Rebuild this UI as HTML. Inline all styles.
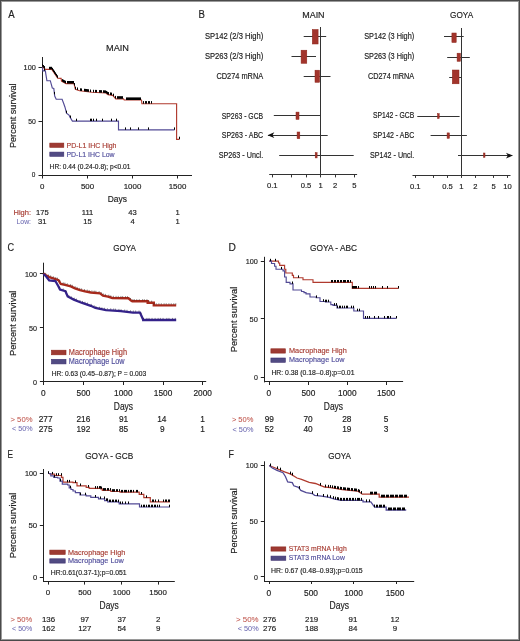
<!DOCTYPE html>
<html><head><meta charset="utf-8"><style>
html,body{margin:0;padding:0;background:#fff;}
body{width:520px;height:641px;overflow:hidden;position:relative;}
svg{position:absolute;left:0;top:0;display:block;will-change:transform;}
text{font-family:"Liberation Sans", sans-serif;}
</style></head><body>
<svg width="520" height="641" viewBox="0 0 520 641">
<rect x="0" y="0" width="520" height="641" fill="#fff"/>
<text x="8.20" y="18.00" font-size="11.3" text-anchor="start" fill="#222" stroke="#222" stroke-width="0.17" textLength="6.40" lengthAdjust="spacingAndGlyphs">A</text>
<text x="117.50" y="51.30" font-size="9.9" text-anchor="middle" fill="#222" stroke="#222" stroke-width="0.17" textLength="23.00" lengthAdjust="spacingAndGlyphs">MAIN</text>
<line x1="42.50" y1="57.00" x2="42.50" y2="175.30" stroke="#222" stroke-width="1"/>
<line x1="42.00" y1="175.50" x2="192.00" y2="175.50" stroke="#222" stroke-width="1"/>
<line x1="38.50" y1="67.50" x2="42.50" y2="67.50" stroke="#222" stroke-width="1"/>
<line x1="38.50" y1="121.50" x2="42.50" y2="121.50" stroke="#222" stroke-width="1"/>
<line x1="38.50" y1="175.50" x2="42.50" y2="175.50" stroke="#222" stroke-width="1"/>
<line x1="42.50" y1="175.00" x2="42.50" y2="178.50" stroke="#222" stroke-width="1"/>
<line x1="87.50" y1="175.00" x2="87.50" y2="178.50" stroke="#222" stroke-width="1"/>
<line x1="132.50" y1="175.00" x2="132.50" y2="178.50" stroke="#222" stroke-width="1"/>
<line x1="177.50" y1="175.00" x2="177.50" y2="178.50" stroke="#222" stroke-width="1"/>
<text x="35.80" y="70.20" font-size="7.6" text-anchor="end" fill="#222" stroke="#222" stroke-width="0.17" textLength="12.20" lengthAdjust="spacingAndGlyphs">100</text>
<text x="35.80" y="124.00" font-size="7.6" text-anchor="end" fill="#222" stroke="#222" stroke-width="0.17" textLength="7.60" lengthAdjust="spacingAndGlyphs">50</text>
<text x="35.40" y="177.40" font-size="7.6" text-anchor="end" fill="#222" stroke="#222" stroke-width="0.17" textLength="3.60" lengthAdjust="spacingAndGlyphs">0</text>
<text x="42.20" y="188.70" font-size="7.9" text-anchor="middle" fill="#222" stroke="#222" stroke-width="0.17">0</text>
<text x="87.50" y="188.70" font-size="7.9" text-anchor="middle" fill="#222" stroke="#222" stroke-width="0.17">500</text>
<text x="132.50" y="188.70" font-size="7.9" text-anchor="middle" fill="#222" stroke="#222" stroke-width="0.17">1000</text>
<text x="177.50" y="188.70" font-size="7.9" text-anchor="middle" fill="#222" stroke="#222" stroke-width="0.17">1500</text>
<text x="117.30" y="201.60" font-size="9" text-anchor="middle" fill="#222" stroke="#222" stroke-width="0.17" textLength="19.20" lengthAdjust="spacingAndGlyphs">Days</text>
<text x="15.90" y="115.70" font-size="9.3" text-anchor="middle" fill="#222" stroke="#222" stroke-width="0.17" textLength="64.60" lengthAdjust="spacingAndGlyphs" transform="rotate(-90 15.90 115.70)">Percent survival</text>
<rect x="49.80" y="143.10" width="14.00" height="4.20" fill="#9e3a33" stroke="#8c2419" stroke-width="0.6"/>
<rect x="49.80" y="152.10" width="14.00" height="4.20" fill="#514b83" stroke="#3d2f6e" stroke-width="0.6"/>
<text x="66.50" y="147.60" font-size="8.1" text-anchor="start" fill="#a83e34" stroke="#a83e34" stroke-width="0.17" textLength="50.00" lengthAdjust="spacingAndGlyphs">PD-L1 IHC High</text>
<text x="66.50" y="156.60" font-size="8.1" text-anchor="start" fill="#524f9c" stroke="#524f9c" stroke-width="0.17" textLength="48.10" lengthAdjust="spacingAndGlyphs">PD-L1 IHC Low</text>
<text x="49.60" y="169.20" font-size="7.7" text-anchor="start" fill="#222" stroke="#222" stroke-width="0.17" textLength="80.80" lengthAdjust="spacingAndGlyphs">HR: 0.44 (0.24-0.8); p&lt;0.01</text>
<text x="31.00" y="215.00" font-size="7.6" text-anchor="end" fill="#a83e34" stroke="#a83e34" stroke-width="0.17" textLength="17.50" lengthAdjust="spacingAndGlyphs">High:</text>
<text x="31.00" y="224.40" font-size="7.6" text-anchor="end" fill="#6e6bb3" stroke="#6e6bb3" stroke-width="0.17" textLength="14.50" lengthAdjust="spacingAndGlyphs" stroke-opacity="0.3">Low:</text>
<text x="42.30" y="215.00" font-size="7.6" text-anchor="middle" fill="#222" stroke="#222" stroke-width="0.17">175</text>
<text x="87.50" y="215.00" font-size="7.6" text-anchor="middle" fill="#222" stroke="#222" stroke-width="0.17">111</text>
<text x="132.50" y="215.00" font-size="7.6" text-anchor="middle" fill="#222" stroke="#222" stroke-width="0.17">43</text>
<text x="177.50" y="215.00" font-size="7.6" text-anchor="middle" fill="#222" stroke="#222" stroke-width="0.17">1</text>
<text x="42.30" y="224.40" font-size="7.6" text-anchor="middle" fill="#222" stroke="#222" stroke-width="0.17">31</text>
<text x="87.50" y="224.40" font-size="7.6" text-anchor="middle" fill="#222" stroke="#222" stroke-width="0.17">15</text>
<text x="132.50" y="224.40" font-size="7.6" text-anchor="middle" fill="#222" stroke="#222" stroke-width="0.17">4</text>
<text x="177.50" y="224.40" font-size="7.6" text-anchor="middle" fill="#222" stroke="#222" stroke-width="0.17">1</text>
<path d="M42.40,66.50 L44.40,68.60 L45.50,69.40 L51.80,69.40 L57.70,78.20 L61.10,78.40 L61.50,81.20 L66.00,83.60 L74.00,83.60 L75.40,89.30 L79.60,90.80 L92.00,92.30 L105.80,93.00 L108.00,94.60 L112.70,95.40 L115.80,98.80 L123.50,98.80 L124.20,100.00 L141.50,100.00 L141.90,103.70 L176.60,103.70 L176.60,139.30 L179.30,139.30" fill="none" stroke="#b03a2e" stroke-width="1.15" stroke-linejoin="miter"/>
<path d="M42.40,67.40 L42.80,70.80 L45.40,70.80 L45.80,73.80 L46.90,80.70 L50.30,80.70 L52.30,88.00 L53.80,88.50 L54.70,96.00 L56.20,99.20 L62.10,99.20 L63.60,103.30 L65.00,107.20 L66.50,113.10 L69.00,115.10 L70.00,117.10 L72.40,121.10 L118.50,121.10 L118.50,129.80 L174.50,129.80" fill="none" stroke="#524a95" stroke-width="1.15" stroke-linejoin="miter"/>
<path d="M42.50,66.61V64.01M43.50,67.66V65.06M44.50,68.67V66.07M49.50,69.40V66.80M50.50,69.40V66.80M51.50,69.40V66.80M52.50,70.44V67.84M53.50,71.94V69.34M54.50,73.43V70.83M54.50,73.43V70.83M55.50,74.92V72.32M56.50,76.41V73.81M57.50,77.90V75.30M62.50,81.73V79.13M63.50,82.27V79.67M64.50,82.80V80.20M65.50,83.33V80.73M67.50,83.60V81.00M68.50,83.60V81.00M69.50,83.60V81.00M70.50,83.60V81.00M71.50,83.60V81.00M72.50,83.60V81.00M73.50,83.60V81.00M74.50,85.64V83.04M75.50,89.34V86.74M77.50,90.05V87.45M80.50,90.91V88.31M81.50,91.03V88.43M84.50,91.39V88.79M85.50,91.51V88.91M86.50,91.63V89.03M87.50,91.76V89.16M88.50,91.88V89.28M90.50,92.12V89.52M93.50,92.38V89.78M95.50,92.48V89.88M96.50,92.53V89.93M99.50,92.68V90.08M100.50,92.73V90.13M101.50,92.78V90.18M103.50,92.88V90.28M104.50,92.93V90.33M105.50,92.98V90.38M106.50,93.51V90.91M107.50,94.24V91.64M108.50,94.69V92.09M110.50,95.03V92.43M111.50,95.20V92.60M113.50,96.28V93.68M115.50,98.47V95.87M117.50,98.80V96.20M118.50,98.80V96.20M119.50,98.80V96.20M120.50,98.80V96.20M121.50,98.80V96.20M122.50,98.80V96.20M126.50,100.00V97.40M127.50,100.00V97.40M128.50,100.00V97.40M129.50,100.00V97.40M130.50,100.00V97.40M131.50,100.00V97.40M132.50,100.00V97.40M133.50,100.00V97.40M134.50,100.00V97.40M135.50,100.00V97.40M136.50,100.00V97.40M137.50,100.00V97.40M138.50,100.00V97.40M139.50,100.00V97.40M140.50,100.00V97.40M143.50,103.70V101.10M145.50,103.70V101.10M146.50,103.70V101.10M148.50,103.70V101.10M149.50,103.70V101.10M151.50,103.70V101.10M179.50,139.30V136.70" stroke="#000" stroke-width="1.0" fill="none"/>
<path d="M44.50,70.80V68.40M54.50,94.33V91.93M66.50,113.10V110.70M70.50,117.93V115.53M76.50,121.10V118.70M90.50,121.10V118.70M91.50,121.10V118.70M93.50,121.10V118.70M96.50,121.10V118.70M102.50,121.10V118.70M111.50,121.10V118.70M116.50,121.10V118.70M125.50,129.80V127.40M130.50,129.80V127.40M138.50,129.80V127.40M148.50,129.80V127.40M174.50,129.80V127.40" stroke="#000" stroke-width="1.0" fill="none"/>
<text x="198.60" y="17.80" font-size="11.3" text-anchor="start" fill="#222" stroke="#222" stroke-width="0.17" textLength="6.40" lengthAdjust="spacingAndGlyphs">B</text>
<text x="313.40" y="18.00" font-size="9.9" text-anchor="middle" fill="#222" stroke="#222" stroke-width="0.17" textLength="22.40" lengthAdjust="spacingAndGlyphs">MAIN</text>
<text x="461.60" y="18.00" font-size="9.9" text-anchor="middle" fill="#222" stroke="#222" stroke-width="0.17" textLength="23.10" lengthAdjust="spacingAndGlyphs">GOYA</text>
<text x="263.20" y="39.30" font-size="8.3" text-anchor="end" fill="#222" stroke="#222" stroke-width="0.17" textLength="58.30" lengthAdjust="spacingAndGlyphs">SP142 (2/3 High)</text>
<text x="263.20" y="58.80" font-size="8.3" text-anchor="end" fill="#222" stroke="#222" stroke-width="0.17" textLength="58.30" lengthAdjust="spacingAndGlyphs">SP263 (2/3 High)</text>
<text x="263.20" y="79.20" font-size="8.3" text-anchor="end" fill="#222" stroke="#222" stroke-width="0.17" textLength="46.80" lengthAdjust="spacingAndGlyphs">CD274 mRNA</text>
<text x="263.20" y="118.70" font-size="8.3" text-anchor="end" fill="#222" stroke="#222" stroke-width="0.17" textLength="41.50" lengthAdjust="spacingAndGlyphs">SP263 - GCB</text>
<text x="263.20" y="138.20" font-size="8.3" text-anchor="end" fill="#222" stroke="#222" stroke-width="0.17" textLength="41.50" lengthAdjust="spacingAndGlyphs">SP263 - ABC</text>
<text x="263.20" y="158.00" font-size="8.3" text-anchor="end" fill="#222" stroke="#222" stroke-width="0.17" textLength="44.50" lengthAdjust="spacingAndGlyphs">SP263 - Uncl.</text>
<text x="414.20" y="39.30" font-size="8.3" text-anchor="end" fill="#222" stroke="#222" stroke-width="0.17" textLength="50.00" lengthAdjust="spacingAndGlyphs">SP142 (3 High)</text>
<text x="414.20" y="58.90" font-size="8.3" text-anchor="end" fill="#222" stroke="#222" stroke-width="0.17" textLength="50.00" lengthAdjust="spacingAndGlyphs">SP263 (3 High)</text>
<text x="414.20" y="78.60" font-size="8.3" text-anchor="end" fill="#222" stroke="#222" stroke-width="0.17" textLength="46.20" lengthAdjust="spacingAndGlyphs">CD274 mRNA</text>
<text x="414.20" y="118.00" font-size="8.3" text-anchor="end" fill="#222" stroke="#222" stroke-width="0.17" textLength="41.30" lengthAdjust="spacingAndGlyphs">SP142 - GCB</text>
<text x="414.20" y="137.60" font-size="8.3" text-anchor="end" fill="#222" stroke="#222" stroke-width="0.17" textLength="41.30" lengthAdjust="spacingAndGlyphs">SP142 - ABC</text>
<text x="414.20" y="157.50" font-size="8.3" text-anchor="end" fill="#222" stroke="#222" stroke-width="0.17" textLength="44.20" lengthAdjust="spacingAndGlyphs">SP142 - Uncl.</text>
<line x1="320.50" y1="27.00" x2="320.50" y2="174.60" stroke="#333" stroke-width="1"/>
<line x1="269.20" y1="174.50" x2="357.10" y2="174.50" stroke="#333" stroke-width="1.1"/>
<line x1="272.50" y1="174.60" x2="272.50" y2="177.40" stroke="#333" stroke-width="1"/>
<text x="272.30" y="188.30" font-size="7.6" text-anchor="middle" fill="#222" stroke="#222" stroke-width="0.17">0.1</text>
<line x1="291.50" y1="174.60" x2="291.50" y2="177.40" stroke="#333" stroke-width="1"/>
<text x="291.52" y="188.30" font-size="7.6" text-anchor="middle" fill="#222" stroke="#222" stroke-width="0.17"></text>
<line x1="306.50" y1="174.60" x2="306.50" y2="177.40" stroke="#333" stroke-width="1"/>
<text x="306.06" y="188.30" font-size="7.6" text-anchor="middle" fill="#222" stroke="#222" stroke-width="0.17">0.5</text>
<line x1="320.50" y1="174.60" x2="320.50" y2="177.40" stroke="#333" stroke-width="1"/>
<text x="320.60" y="188.30" font-size="7.6" text-anchor="middle" fill="#222" stroke="#222" stroke-width="0.17">1</text>
<line x1="335.50" y1="174.60" x2="335.50" y2="177.40" stroke="#333" stroke-width="1"/>
<text x="335.14" y="188.30" font-size="7.6" text-anchor="middle" fill="#222" stroke="#222" stroke-width="0.17">2</text>
<line x1="354.50" y1="174.60" x2="354.50" y2="177.40" stroke="#333" stroke-width="1"/>
<text x="354.36" y="188.30" font-size="7.6" text-anchor="middle" fill="#222" stroke="#222" stroke-width="0.17">5</text>
<line x1="303.70" y1="36.50" x2="326.20" y2="36.50" stroke="#333" stroke-width="1"/>
<rect x="312.30" y="29.50" width="5.80" height="14.50" fill="#a2342c" stroke="#8c2419" stroke-width="0.5"/>
<line x1="291.50" y1="56.50" x2="316.00" y2="56.50" stroke="#333" stroke-width="1"/>
<rect x="301.10" y="50.20" width="5.70" height="13.10" fill="#a2342c" stroke="#8c2419" stroke-width="0.5"/>
<line x1="303.70" y1="76.50" x2="330.50" y2="76.50" stroke="#333" stroke-width="1"/>
<rect x="315.00" y="70.20" width="4.60" height="12.10" fill="#a2342c" stroke="#8c2419" stroke-width="0.5"/>
<line x1="273.80" y1="115.50" x2="320.60" y2="115.50" stroke="#333" stroke-width="1"/>
<rect x="296.00" y="112.10" width="3.00" height="7.30" fill="#a2342c" stroke="#8c2419" stroke-width="0.5"/>
<line x1="268.00" y1="135.50" x2="327.70" y2="135.50" stroke="#333" stroke-width="1"/>
<path d="M267.50,135.20 L274.30,132.30 L272.50,135.20 L274.30,138.10 Z" fill="#111"/>
<rect x="297.10" y="132.00" width="2.70" height="6.70" fill="#a2342c" stroke="#8c2419" stroke-width="0.5"/>
<line x1="279.20" y1="155.50" x2="353.70" y2="155.50" stroke="#333" stroke-width="1"/>
<rect x="315.20" y="152.70" width="1.90" height="5.20" fill="#a2342c" stroke="#8c2419" stroke-width="0.5"/>
<line x1="461.50" y1="28.00" x2="461.50" y2="175.10" stroke="#333" stroke-width="1"/>
<line x1="412.50" y1="175.50" x2="510.50" y2="175.50" stroke="#333" stroke-width="1.1"/>
<line x1="415.50" y1="175.10" x2="415.50" y2="177.90" stroke="#333" stroke-width="1"/>
<text x="415.30" y="188.80" font-size="7.6" text-anchor="middle" fill="#222" stroke="#222" stroke-width="0.17">0.1</text>
<line x1="433.50" y1="175.10" x2="433.50" y2="177.90" stroke="#333" stroke-width="1"/>
<text x="433.65" y="188.80" font-size="7.6" text-anchor="middle" fill="#222" stroke="#222" stroke-width="0.17"></text>
<line x1="447.50" y1="175.10" x2="447.50" y2="177.90" stroke="#333" stroke-width="1"/>
<text x="447.52" y="188.80" font-size="7.6" text-anchor="middle" fill="#222" stroke="#222" stroke-width="0.17">0.5</text>
<line x1="461.50" y1="175.10" x2="461.50" y2="177.90" stroke="#333" stroke-width="1"/>
<text x="461.40" y="188.80" font-size="7.6" text-anchor="middle" fill="#222" stroke="#222" stroke-width="0.17">1</text>
<line x1="475.50" y1="175.10" x2="475.50" y2="177.90" stroke="#333" stroke-width="1"/>
<text x="475.28" y="188.80" font-size="7.6" text-anchor="middle" fill="#222" stroke="#222" stroke-width="0.17">2</text>
<line x1="493.50" y1="175.10" x2="493.50" y2="177.90" stroke="#333" stroke-width="1"/>
<text x="493.62" y="188.80" font-size="7.6" text-anchor="middle" fill="#222" stroke="#222" stroke-width="0.17">5</text>
<line x1="507.50" y1="175.10" x2="507.50" y2="177.90" stroke="#333" stroke-width="1"/>
<text x="507.50" y="188.80" font-size="7.6" text-anchor="middle" fill="#222" stroke="#222" stroke-width="0.17">10</text>
<line x1="444.00" y1="36.50" x2="463.70" y2="36.50" stroke="#333" stroke-width="1"/>
<rect x="451.90" y="33.00" width="4.30" height="9.50" fill="#a2342c" stroke="#8c2419" stroke-width="0.5"/>
<line x1="447.20" y1="57.50" x2="469.80" y2="57.50" stroke="#333" stroke-width="1"/>
<rect x="457.10" y="53.20" width="3.40" height="8.10" fill="#a2342c" stroke="#8c2419" stroke-width="0.5"/>
<line x1="449.20" y1="77.50" x2="461.50" y2="77.50" stroke="#333" stroke-width="1"/>
<rect x="452.30" y="70.00" width="6.70" height="13.80" fill="#a2342c" stroke="#8c2419" stroke-width="0.5"/>
<line x1="417.30" y1="116.50" x2="459.60" y2="116.50" stroke="#333" stroke-width="1"/>
<rect x="437.50" y="113.70" width="1.70" height="4.80" fill="#a2342c" stroke="#8c2419" stroke-width="0.5"/>
<line x1="430.60" y1="135.50" x2="466.90" y2="135.50" stroke="#333" stroke-width="1"/>
<rect x="447.10" y="132.90" width="2.30" height="5.40" fill="#a2342c" stroke="#8c2419" stroke-width="0.5"/>
<line x1="458.00" y1="155.50" x2="512.30" y2="155.50" stroke="#333" stroke-width="1"/>
<path d="M512.80,155.60 L506.00,152.70 L507.80,155.60 L506.00,158.50 Z" fill="#111"/>
<rect x="483.50" y="153.00" width="1.50" height="4.30" fill="#a2342c" stroke="#8c2419" stroke-width="0.5"/>
<text x="7.60" y="250.60" font-size="11.3" text-anchor="start" fill="#222" stroke="#222" stroke-width="0.17" textLength="6.60" lengthAdjust="spacingAndGlyphs">C</text>
<text x="124.60" y="250.90" font-size="9.9" text-anchor="middle" fill="#222" stroke="#222" stroke-width="0.17" textLength="22.70" lengthAdjust="spacingAndGlyphs">GOYA</text>
<line x1="43.50" y1="262.70" x2="43.50" y2="382.30" stroke="#222" stroke-width="1"/>
<line x1="43.00" y1="381.50" x2="206.20" y2="381.50" stroke="#222" stroke-width="1"/>
<line x1="39.90" y1="273.50" x2="43.50" y2="273.50" stroke="#222" stroke-width="1"/>
<line x1="39.90" y1="327.50" x2="43.50" y2="327.50" stroke="#222" stroke-width="1"/>
<line x1="39.90" y1="381.50" x2="43.50" y2="381.50" stroke="#222" stroke-width="1"/>
<line x1="43.50" y1="381.80" x2="43.50" y2="385.00" stroke="#222" stroke-width="1"/>
<line x1="83.50" y1="381.80" x2="83.50" y2="385.00" stroke="#222" stroke-width="1"/>
<line x1="123.50" y1="381.80" x2="123.50" y2="385.00" stroke="#222" stroke-width="1"/>
<line x1="163.50" y1="381.80" x2="163.50" y2="385.00" stroke="#222" stroke-width="1"/>
<line x1="202.50" y1="381.80" x2="202.50" y2="385.00" stroke="#222" stroke-width="1"/>
<text x="37.00" y="276.85" font-size="8" text-anchor="end" fill="#222" stroke="#222" stroke-width="0.17" textLength="11.90" lengthAdjust="spacingAndGlyphs">100</text>
<text x="37.00" y="330.85" font-size="8" text-anchor="end" fill="#222" stroke="#222" stroke-width="0.17" textLength="8.00" lengthAdjust="spacingAndGlyphs">50</text>
<text x="37.00" y="384.55" font-size="8" text-anchor="end" fill="#222" stroke="#222" stroke-width="0.17" textLength="4.00" lengthAdjust="spacingAndGlyphs">0</text>
<text x="43.30" y="395.60" font-size="8.3" text-anchor="middle" fill="#222" stroke="#222" stroke-width="0.17">0</text>
<text x="83.50" y="395.60" font-size="8.3" text-anchor="middle" fill="#222" stroke="#222" stroke-width="0.17">500</text>
<text x="123.30" y="395.60" font-size="8.3" text-anchor="middle" fill="#222" stroke="#222" stroke-width="0.17">1000</text>
<text x="163.10" y="395.60" font-size="8.3" text-anchor="middle" fill="#222" stroke="#222" stroke-width="0.17">1500</text>
<text x="202.70" y="395.60" font-size="8.3" text-anchor="middle" fill="#222" stroke="#222" stroke-width="0.17">2000</text>
<text x="123.45" y="409.50" font-size="10.3" text-anchor="middle" fill="#222" stroke="#222" stroke-width="0.17" textLength="19.30" lengthAdjust="spacingAndGlyphs">Days</text>
<text x="15.90" y="323.30" font-size="9.3" text-anchor="middle" fill="#222" stroke="#222" stroke-width="0.17" textLength="65.40" lengthAdjust="spacingAndGlyphs" transform="rotate(-90 15.90 323.30)">Percent survival</text>
<rect x="51.50" y="350.20" width="14.50" height="4.60" fill="#9e3a33" stroke="#8c2419" stroke-width="0.6"/>
<rect x="51.50" y="359.30" width="14.50" height="4.60" fill="#514b83" stroke="#3d2f6e" stroke-width="0.6"/>
<text x="68.80" y="355.20" font-size="8.3" text-anchor="start" fill="#a83e34" stroke="#a83e34" stroke-width="0.17" textLength="58.20" lengthAdjust="spacingAndGlyphs">Macrophage High</text>
<text x="68.80" y="364.30" font-size="8.3" text-anchor="start" fill="#524f9c" stroke="#524f9c" stroke-width="0.17" textLength="55.80" lengthAdjust="spacingAndGlyphs">Macrophage Low</text>
<text x="51.70" y="376.30" font-size="7.9" text-anchor="start" fill="#222" stroke="#222" stroke-width="0.17" textLength="94.50" lengthAdjust="spacingAndGlyphs">HR: 0.63 (0.45–0.87); P = 0.003</text>
<text x="32.50" y="422.20" font-size="8.0" text-anchor="end" fill="#c0554c" stroke="#c0554c" stroke-width="0.17" textLength="22.00" lengthAdjust="spacingAndGlyphs" stroke-opacity="0.3">&gt; 50%</text>
<text x="32.50" y="431.40" font-size="8.0" text-anchor="end" fill="#6e6bb3" stroke="#6e6bb3" stroke-width="0.17" textLength="20.50" lengthAdjust="spacingAndGlyphs" stroke-opacity="0.3">&lt; 50%</text>
<text x="45.60" y="422.40" font-size="8.3" text-anchor="middle" fill="#222" stroke="#222" stroke-width="0.17">277</text>
<text x="83.40" y="422.40" font-size="8.3" text-anchor="middle" fill="#222" stroke="#222" stroke-width="0.17">216</text>
<text x="123.60" y="422.40" font-size="8.3" text-anchor="middle" fill="#222" stroke="#222" stroke-width="0.17">91</text>
<text x="161.80" y="422.40" font-size="8.3" text-anchor="middle" fill="#222" stroke="#222" stroke-width="0.17">14</text>
<text x="202.60" y="422.40" font-size="8.3" text-anchor="middle" fill="#222" stroke="#222" stroke-width="0.17">1</text>
<text x="45.60" y="432.00" font-size="8.3" text-anchor="middle" fill="#222" stroke="#222" stroke-width="0.17">275</text>
<text x="83.40" y="432.00" font-size="8.3" text-anchor="middle" fill="#222" stroke="#222" stroke-width="0.17">192</text>
<text x="123.60" y="432.00" font-size="8.3" text-anchor="middle" fill="#222" stroke="#222" stroke-width="0.17">85</text>
<text x="162.30" y="432.00" font-size="8.3" text-anchor="middle" fill="#222" stroke="#222" stroke-width="0.17">9</text>
<text x="202.60" y="432.00" font-size="8.3" text-anchor="middle" fill="#222" stroke="#222" stroke-width="0.17">1</text>
<path d="M43.40,273.60 L46.00,275.30 L49.20,277.10 L54.00,278.60 L58.50,280.20 L60.80,284.00 L65.00,284.80 L70.80,286.30 L75.00,288.30 L80.00,290.20 L85.00,291.30 L90.80,292.50 L100.00,293.30 L103.00,295.60 L108.00,296.60 L112.30,298.00 L128.50,298.30 L131.00,300.60 L132.30,301.30 L147.70,301.30 L147.70,302.80 L153.80,302.80 L153.80,305.40 L176.20,305.40" fill="none" stroke="#a82a1c" stroke-width="2.4" stroke-linejoin="miter"/>
<path d="M43.40,274.00 L46.20,276.50 L49.20,280.40 L55.40,281.00 L58.50,286.50 L60.00,289.60 L65.40,291.20 L67.70,296.50 L73.80,299.60 L81.50,302.70 L90.80,305.80 L95.40,308.00 L106.00,310.20 L110.00,310.30 L120.80,311.20 L133.00,312.60 L140.00,312.60 L141.50,316.00 L143.20,319.70 L143.20,320.00 L176.20,320.00" fill="none" stroke="#34228a" stroke-width="2.3" stroke-linejoin="miter"/>
<path d="M45.69,274.29V272.89M48.45,275.88V274.48M50.64,276.75V275.35M53.32,277.59V276.19M55.75,278.42V277.02M57.48,279.04V277.64M59.82,281.57V280.17M63.20,283.66V282.26M64.91,283.98V282.58M67.28,284.59V283.19M70.59,285.45V284.05M72.36,286.24V284.84M75.20,287.58V286.18M77.17,288.33V286.93M79.77,289.31V287.91M81.58,289.75V288.35M84.56,290.40V289.00M87.24,290.96V289.56M89.23,291.37V289.97M91.89,291.79V290.39M94.21,292.00V290.60M95.88,292.14V290.74M99.11,292.42V291.02M101.31,293.50V292.10M103.36,294.87V293.47M105.44,295.29V293.89M108.84,296.07V294.67M110.77,296.70V295.30M113.46,297.22V295.82M116.05,297.27V295.87M118.26,297.31V295.91M120.91,297.36V295.96M122.67,297.39V295.99M125.56,297.45V296.05M127.53,297.48V296.08M130.52,299.36V297.96M132.85,300.50V299.10M134.32,300.50V299.10M136.76,300.50V299.10M139.26,300.50V299.10M142.56,300.50V299.10M144.32,300.50V299.10M146.95,300.50V299.10M148.96,302.00V300.60M151.61,302.00V300.60M153.86,304.60V303.20M156.22,304.60V303.20M158.90,304.60V303.20M161.30,304.60V303.20M164.09,304.60V303.20M166.22,304.60V303.20M168.91,304.60V303.20M171.23,304.60V303.20M173.79,304.60V303.20M175.81,304.60V303.20" stroke="#2a1a18" stroke-width="0.9" fill="none" opacity="0.55"/>
<path d="M59.60,287.96V286.66M63.23,289.76V288.46M66.16,292.15V290.85M68.89,296.30V295.00M71.28,297.52V296.22M74.26,298.98V297.68M76.45,299.87V298.57M80.00,301.30V300.00M82.49,302.23V300.93M84.94,303.05V301.75M87.48,303.89V302.59M91.22,305.20V303.90M94.19,306.62V305.32M95.91,307.31V306.01M99.56,308.06V306.76M101.89,308.55V307.25M104.38,309.06V307.76M107.35,309.43V308.13M110.72,309.56V308.26M113.65,309.80V308.50M115.45,309.95V308.65M118.94,310.24V308.94M121.05,310.43V309.13M124.66,310.84V309.54M127.00,311.11V309.81M130.46,311.51V310.21M133.38,311.80V310.50M135.61,311.80V310.50M139.00,311.80V310.50M140.97,314.00V312.70M143.49,319.20V317.90M146.92,319.20V317.90M149.04,319.20V317.90M152.04,319.20V317.90M155.09,319.20V317.90M158.13,319.20V317.90M160.39,319.20V317.90M163.05,319.20V317.90M166.84,319.20V317.90M168.98,319.20V317.90M172.55,319.20V317.90M175.28,319.20V317.90" stroke="#1a1530" stroke-width="0.9" fill="none" opacity="0.55"/>
<text x="228.40" y="250.80" font-size="11.3" text-anchor="start" fill="#222" stroke="#222" stroke-width="0.17" textLength="7.40" lengthAdjust="spacingAndGlyphs">D</text>
<text x="333.60" y="251.40" font-size="9.9" text-anchor="middle" fill="#222" stroke="#222" stroke-width="0.17" textLength="47.10" lengthAdjust="spacingAndGlyphs">GOYA - ABC</text>
<line x1="264.50" y1="256.80" x2="264.50" y2="382.40" stroke="#222" stroke-width="1"/>
<line x1="264.00" y1="381.50" x2="403.10" y2="381.50" stroke="#222" stroke-width="1"/>
<line x1="260.80" y1="261.50" x2="264.40" y2="261.50" stroke="#222" stroke-width="1"/>
<line x1="260.80" y1="318.50" x2="264.40" y2="318.50" stroke="#222" stroke-width="1"/>
<line x1="260.80" y1="377.50" x2="264.40" y2="377.50" stroke="#222" stroke-width="1"/>
<line x1="269.50" y1="381.90" x2="269.50" y2="385.00" stroke="#222" stroke-width="1"/>
<line x1="308.50" y1="381.90" x2="308.50" y2="385.00" stroke="#222" stroke-width="1"/>
<line x1="347.50" y1="381.90" x2="347.50" y2="385.00" stroke="#222" stroke-width="1"/>
<line x1="386.50" y1="381.90" x2="386.50" y2="385.00" stroke="#222" stroke-width="1"/>
<text x="257.80" y="263.65" font-size="8" text-anchor="end" fill="#222" stroke="#222" stroke-width="0.17" textLength="12.10" lengthAdjust="spacingAndGlyphs">100</text>
<text x="257.80" y="321.55" font-size="8" text-anchor="end" fill="#222" stroke="#222" stroke-width="0.17" textLength="8.30" lengthAdjust="spacingAndGlyphs">50</text>
<text x="257.80" y="380.05" font-size="8" text-anchor="end" fill="#222" stroke="#222" stroke-width="0.17" textLength="3.90" lengthAdjust="spacingAndGlyphs">0</text>
<text x="268.90" y="395.60" font-size="8.3" text-anchor="middle" fill="#222" stroke="#222" stroke-width="0.17">0</text>
<text x="308.40" y="395.60" font-size="8.3" text-anchor="middle" fill="#222" stroke="#222" stroke-width="0.17">500</text>
<text x="347.30" y="395.60" font-size="8.3" text-anchor="middle" fill="#222" stroke="#222" stroke-width="0.17">1000</text>
<text x="386.20" y="395.60" font-size="8.3" text-anchor="middle" fill="#222" stroke="#222" stroke-width="0.17">1500</text>
<text x="333.45" y="409.50" font-size="10.3" text-anchor="middle" fill="#222" stroke="#222" stroke-width="0.17" textLength="19.30" lengthAdjust="spacingAndGlyphs">Days</text>
<text x="236.70" y="319.50" font-size="9.3" text-anchor="middle" fill="#222" stroke="#222" stroke-width="0.17" textLength="65.50" lengthAdjust="spacingAndGlyphs" transform="rotate(-90 236.70 319.50)">Percent survival</text>
<rect x="270.90" y="348.80" width="14.40" height="4.30" fill="#9e3a33" stroke="#8c2419" stroke-width="0.6"/>
<rect x="270.90" y="358.00" width="14.40" height="4.30" fill="#514b83" stroke="#3d2f6e" stroke-width="0.6"/>
<text x="289.00" y="353.10" font-size="8.1" text-anchor="start" fill="#a83e34" stroke="#a83e34" stroke-width="0.17" textLength="57.70" lengthAdjust="spacingAndGlyphs">Macrophage High</text>
<text x="289.00" y="362.40" font-size="8.1" text-anchor="start" fill="#524f9c" stroke="#524f9c" stroke-width="0.17" textLength="55.40" lengthAdjust="spacingAndGlyphs">Macrophage Low</text>
<text x="271.40" y="374.70" font-size="7.9" text-anchor="start" fill="#222" stroke="#222" stroke-width="0.17" textLength="83.10" lengthAdjust="spacingAndGlyphs">HR: 0.38 (0.18–0.8);p=0.01</text>
<text x="253.40" y="422.00" font-size="8.0" text-anchor="end" fill="#c0554c" stroke="#c0554c" stroke-width="0.17" textLength="21.50" lengthAdjust="spacingAndGlyphs" stroke-opacity="0.3">&gt; 50%</text>
<text x="253.40" y="431.70" font-size="8.0" text-anchor="end" fill="#6e6bb3" stroke="#6e6bb3" stroke-width="0.17" textLength="20.80" lengthAdjust="spacingAndGlyphs" stroke-opacity="0.3">&lt; 50%</text>
<text x="269.30" y="422.40" font-size="8.3" text-anchor="middle" fill="#222" stroke="#222" stroke-width="0.17">99</text>
<text x="308.00" y="422.40" font-size="8.3" text-anchor="middle" fill="#222" stroke="#222" stroke-width="0.17">70</text>
<text x="346.80" y="422.40" font-size="8.3" text-anchor="middle" fill="#222" stroke="#222" stroke-width="0.17">28</text>
<text x="386.00" y="422.40" font-size="8.3" text-anchor="middle" fill="#222" stroke="#222" stroke-width="0.17">5</text>
<text x="269.30" y="432.00" font-size="8.3" text-anchor="middle" fill="#222" stroke="#222" stroke-width="0.17">52</text>
<text x="308.00" y="432.00" font-size="8.3" text-anchor="middle" fill="#222" stroke="#222" stroke-width="0.17">40</text>
<text x="346.80" y="432.00" font-size="8.3" text-anchor="middle" fill="#222" stroke="#222" stroke-width="0.17">19</text>
<text x="386.00" y="432.00" font-size="8.3" text-anchor="middle" fill="#222" stroke="#222" stroke-width="0.17">3</text>
<path d="M269.20,261.10 L278.50,261.10 L278.50,263.00 L279.70,263.00 L279.70,265.40 L284.60,265.40 L284.60,269.20 L285.80,269.20 L285.80,273.00 L292.30,273.00 L292.30,275.40 L293.50,275.40 L293.50,277.70 L303.00,277.70 L303.00,279.70 L313.00,279.70 L313.00,282.30 L352.30,282.30 L352.30,288.30 L398.60,288.30 L398.60,288.30" fill="none" stroke="#b03a2e" stroke-width="1.15" stroke-linejoin="miter"/>
<path d="M269.20,261.10 L271.50,261.10 L271.50,263.50 L274.60,263.50 L274.60,266.20 L276.00,266.20 L276.00,269.20 L283.00,269.20 L283.00,270.80 L284.60,270.80 L284.60,277.00 L286.20,277.00 L286.20,282.30 L290.00,282.30 L290.00,283.80 L293.00,283.80 L293.00,290.00 L301.50,290.00 L301.50,291.50 L304.00,291.50 L304.00,292.60 L306.00,292.60 L306.00,293.80 L310.00,293.80 L310.00,297.00 L316.20,297.00 L316.20,297.70 L320.00,297.70 L320.00,301.50 L325.40,301.50 L325.40,302.00 L330.80,302.00 L330.80,304.60 L333.00,304.60 L333.00,305.40 L337.00,305.40 L337.00,308.00 L353.80,308.00 L353.80,311.00 L363.50,311.00 L363.50,318.30 L396.30,318.30 L396.30,318.30" fill="none" stroke="#524a95" stroke-width="1.15" stroke-linejoin="miter"/>
<path d="M270.50,261.20V258.80M275.50,261.20V258.80M298.50,277.80V275.40M331.50,282.40V280.00M332.50,282.40V280.00M334.50,282.40V280.00M335.50,282.40V280.00M337.50,282.40V280.00M338.50,282.40V280.00M340.50,282.40V280.00M341.50,282.40V280.00M343.50,282.40V280.00M344.50,282.40V280.00M345.50,282.40V280.00M347.50,282.40V280.00M348.50,282.40V280.00M350.50,282.40V280.00M352.50,288.40V286.00M353.50,288.40V286.00M354.50,288.40V286.00M355.50,288.40V286.00M356.50,288.40V286.00M358.50,288.40V286.00M369.50,288.40V286.00M371.50,288.40V286.00M373.50,288.40V286.00M375.50,288.40V286.00M382.50,288.40V286.00M387.50,288.40V286.00M398.50,288.40V286.00" stroke="#000" stroke-width="1.0" fill="none"/>
<path d="M281.50,269.30V266.90M292.50,283.90V281.50M316.50,297.80V295.40M323.50,301.60V299.20M325.50,302.10V299.70M326.50,302.10V299.70M328.50,302.10V299.70M334.50,305.50V303.10M336.50,305.50V303.10M337.50,308.10V305.70M339.50,308.10V305.70M340.50,308.10V305.70M342.50,308.10V305.70M344.50,308.10V305.70M346.50,308.10V305.70M347.50,308.10V305.70M351.50,308.10V305.70M353.50,308.10V305.70M357.50,311.10V308.70M359.50,311.10V308.70M365.50,318.40V316.00M367.50,318.40V316.00M369.50,318.40V316.00M374.50,318.40V316.00M378.50,318.40V316.00M384.50,318.40V316.00M387.50,318.40V316.00M388.50,318.40V316.00M390.50,318.40V316.00M396.50,318.40V316.00" stroke="#000" stroke-width="1.0" fill="none"/>
<text x="7.60" y="458.10" font-size="11.3" text-anchor="start" fill="#222" stroke="#222" stroke-width="0.17" textLength="5.50" lengthAdjust="spacingAndGlyphs">E</text>
<text x="109.20" y="458.70" font-size="9.9" text-anchor="middle" fill="#222" stroke="#222" stroke-width="0.17" textLength="48.10" lengthAdjust="spacingAndGlyphs">GOYA - GCB</text>
<line x1="43.50" y1="469.00" x2="43.50" y2="582.00" stroke="#222" stroke-width="1"/>
<line x1="43.00" y1="581.50" x2="174.80" y2="581.50" stroke="#222" stroke-width="1"/>
<line x1="39.80" y1="473.50" x2="43.40" y2="473.50" stroke="#222" stroke-width="1"/>
<line x1="39.80" y1="525.50" x2="43.40" y2="525.50" stroke="#222" stroke-width="1"/>
<line x1="39.80" y1="577.50" x2="43.40" y2="577.50" stroke="#222" stroke-width="1"/>
<line x1="48.50" y1="581.60" x2="48.50" y2="584.60" stroke="#222" stroke-width="1"/>
<line x1="84.50" y1="581.60" x2="84.50" y2="584.60" stroke="#222" stroke-width="1"/>
<line x1="121.50" y1="581.60" x2="121.50" y2="584.60" stroke="#222" stroke-width="1"/>
<line x1="158.50" y1="581.60" x2="158.50" y2="584.60" stroke="#222" stroke-width="1"/>
<text x="37.10" y="476.05" font-size="8" text-anchor="end" fill="#222" stroke="#222" stroke-width="0.17" textLength="12.00" lengthAdjust="spacingAndGlyphs">100</text>
<text x="37.10" y="527.75" font-size="8" text-anchor="end" fill="#222" stroke="#222" stroke-width="0.17" textLength="8.70" lengthAdjust="spacingAndGlyphs">50</text>
<text x="37.10" y="580.05" font-size="8" text-anchor="end" fill="#222" stroke="#222" stroke-width="0.17" textLength="4.20" lengthAdjust="spacingAndGlyphs">0</text>
<text x="48.00" y="594.60" font-size="7.9" text-anchor="middle" fill="#222" stroke="#222" stroke-width="0.17">0</text>
<text x="84.80" y="594.60" font-size="7.9" text-anchor="middle" fill="#222" stroke="#222" stroke-width="0.17">500</text>
<text x="121.60" y="594.60" font-size="7.9" text-anchor="middle" fill="#222" stroke="#222" stroke-width="0.17">1000</text>
<text x="158.10" y="594.60" font-size="7.9" text-anchor="middle" fill="#222" stroke="#222" stroke-width="0.17">1500</text>
<text x="109.20" y="608.80" font-size="10" text-anchor="middle" fill="#222" stroke="#222" stroke-width="0.17" textLength="19.20" lengthAdjust="spacingAndGlyphs">Days</text>
<text x="15.90" y="525.50" font-size="9.3" text-anchor="middle" fill="#222" stroke="#222" stroke-width="0.17" textLength="65.50" lengthAdjust="spacingAndGlyphs" transform="rotate(-90 15.90 525.50)">Percent survival</text>
<rect x="49.80" y="550.10" width="15.40" height="4.30" fill="#9e3a33" stroke="#8c2419" stroke-width="0.6"/>
<rect x="49.80" y="558.80" width="15.40" height="4.30" fill="#514b83" stroke="#3d2f6e" stroke-width="0.6"/>
<text x="68.00" y="554.50" font-size="8.1" text-anchor="start" fill="#a83e34" stroke="#a83e34" stroke-width="0.17" textLength="57.20" lengthAdjust="spacingAndGlyphs">Macrophage High</text>
<text x="68.00" y="563.20" font-size="8.1" text-anchor="start" fill="#524f9c" stroke="#524f9c" stroke-width="0.17" textLength="55.70" lengthAdjust="spacingAndGlyphs">Macrophage Low</text>
<text x="50.80" y="574.80" font-size="7.9" text-anchor="start" fill="#222" stroke="#222" stroke-width="0.17" textLength="75.80" lengthAdjust="spacingAndGlyphs">HR:0.61(0.37-1);p=0.051</text>
<text x="32.20" y="622.00" font-size="8.0" text-anchor="end" fill="#c0554c" stroke="#c0554c" stroke-width="0.17" textLength="21.80" lengthAdjust="spacingAndGlyphs" stroke-opacity="0.3">&gt; 50%</text>
<text x="32.20" y="631.30" font-size="8.0" text-anchor="end" fill="#6e6bb3" stroke="#6e6bb3" stroke-width="0.17" textLength="20.10" lengthAdjust="spacingAndGlyphs" stroke-opacity="0.3">&lt; 50%</text>
<text x="48.50" y="621.70" font-size="7.9" text-anchor="middle" fill="#222" stroke="#222" stroke-width="0.17">136</text>
<text x="84.80" y="621.70" font-size="7.9" text-anchor="middle" fill="#222" stroke="#222" stroke-width="0.17">97</text>
<text x="121.80" y="621.70" font-size="7.9" text-anchor="middle" fill="#222" stroke="#222" stroke-width="0.17">37</text>
<text x="158.20" y="621.70" font-size="7.9" text-anchor="middle" fill="#222" stroke="#222" stroke-width="0.17">2</text>
<text x="48.50" y="631.00" font-size="7.9" text-anchor="middle" fill="#222" stroke="#222" stroke-width="0.17">162</text>
<text x="84.80" y="631.00" font-size="7.9" text-anchor="middle" fill="#222" stroke="#222" stroke-width="0.17">127</text>
<text x="121.80" y="631.00" font-size="7.9" text-anchor="middle" fill="#222" stroke="#222" stroke-width="0.17">54</text>
<text x="158.20" y="631.00" font-size="7.9" text-anchor="middle" fill="#222" stroke="#222" stroke-width="0.17">9</text>
<path d="M48.00,473.50 L50.00,473.50 L50.00,474.20 L54.60,474.20 L54.60,475.50 L61.50,475.50 L61.50,477.30 L63.00,477.30 L63.00,482.20 L73.00,482.20 L73.00,482.70 L77.00,482.70 L77.00,485.80 L86.20,485.80 L86.20,487.30 L89.20,487.30 L89.20,488.40 L100.80,488.40 L100.80,488.80 L102.30,488.80 L102.30,490.40 L110.80,490.40 L110.80,491.50 L120.00,491.50 L120.00,492.20 L139.20,492.20 L139.20,494.30 L143.80,494.30 L143.80,497.70 L150.30,497.70 L150.30,501.80 L170.00,501.80 L170.00,501.80" fill="none" stroke="#b03a2e" stroke-width="1.2" stroke-linejoin="miter"/>
<path d="M48.00,473.50 L50.80,473.50 L50.80,475.80 L53.80,475.80 L53.80,477.30 L57.70,477.30 L57.70,478.00 L60.00,478.00 L60.00,481.20 L62.30,481.20 L62.30,484.20 L67.70,484.20 L67.70,485.00 L69.20,485.00 L69.20,488.00 L71.00,488.00 L71.00,489.50 L73.00,489.50 L73.00,491.00 L75.40,491.00 L75.40,492.70 L80.00,492.70 L80.00,495.00 L86.20,495.00 L86.20,495.80 L90.80,495.80 L90.80,497.30 L98.50,497.30 L98.50,498.80 L104.60,498.80 L104.60,500.70 L107.70,500.70 L107.70,501.90 L118.50,501.90 L118.50,502.40 L119.20,502.40 L119.20,503.80 L139.50,503.80 L139.50,507.00 L170.00,507.00 L170.00,507.00" fill="none" stroke="#524a95" stroke-width="1.2" stroke-linejoin="miter"/>
<path d="M48.50,473.60V471.20M52.50,474.30V471.90M56.50,475.60V473.20M58.50,475.60V473.20M61.50,475.60V473.20M67.50,482.30V479.90M69.50,482.30V479.90M75.50,482.80V480.40M80.50,485.90V483.50M88.50,487.40V485.00M95.50,488.50V486.10M97.50,488.50V486.10M99.50,488.50V486.10M100.50,488.50V486.10M101.50,488.90V486.50M103.50,490.50V488.10M104.50,490.50V488.10M105.50,490.50V488.10M107.50,490.50V488.10M108.50,490.50V488.10M110.50,490.50V488.10M112.50,491.60V489.20M113.50,491.60V489.20M114.50,491.60V489.20M116.50,491.60V489.20M117.50,491.60V489.20M119.50,491.60V489.20M121.50,492.30V489.90M122.50,492.30V489.90M124.50,492.30V489.90M125.50,492.30V489.90M126.50,492.30V489.90M128.50,492.30V489.90M130.50,492.30V489.90M131.50,492.30V489.90M133.50,492.30V489.90M136.50,492.30V489.90M137.50,492.30V489.90M141.50,494.40V492.00M146.50,497.80V495.40M152.50,501.90V499.50M153.50,501.90V499.50M155.50,501.90V499.50M158.50,501.90V499.50M163.50,501.90V499.50M165.50,501.90V499.50M166.50,501.90V499.50M168.50,501.90V499.50M169.50,501.90V499.50" stroke="#000" stroke-width="1.0" fill="none"/>
<path d="M54.50,477.40V475.00M60.50,481.30V478.90M70.50,488.10V485.70M80.50,495.10V492.70M85.50,495.10V492.70M95.50,497.40V495.00M100.50,498.90V496.50M104.50,498.90V496.50M106.50,500.80V498.40M107.50,500.80V498.40M109.50,502.00V499.60M110.50,502.00V499.60M112.50,502.00V499.60M113.50,502.00V499.60M115.50,502.00V499.60M116.50,502.00V499.60M118.50,502.00V499.60M120.50,503.90V501.50M122.50,503.90V501.50M125.50,503.90V501.50M128.50,503.90V501.50M141.50,507.10V504.70M143.50,507.10V504.70M144.50,507.10V504.70M146.50,507.10V504.70M148.50,507.10V504.70M149.50,507.10V504.70M151.50,507.10V504.70M152.50,507.10V504.70M154.50,507.10V504.70M155.50,507.10V504.70M157.50,507.10V504.70M159.50,507.10V504.70M169.50,507.10V504.70" stroke="#000" stroke-width="1.0" fill="none"/>
<text x="228.40" y="458.00" font-size="11.3" text-anchor="start" fill="#222" stroke="#222" stroke-width="0.17" textLength="5.40" lengthAdjust="spacingAndGlyphs">F</text>
<text x="339.50" y="458.50" font-size="9.9" text-anchor="middle" fill="#222" stroke="#222" stroke-width="0.17" textLength="22.70" lengthAdjust="spacingAndGlyphs">GOYA</text>
<line x1="264.50" y1="461.30" x2="264.50" y2="581.50" stroke="#222" stroke-width="1"/>
<line x1="264.00" y1="581.50" x2="414.20" y2="581.50" stroke="#222" stroke-width="1"/>
<line x1="260.80" y1="465.50" x2="264.40" y2="465.50" stroke="#222" stroke-width="1"/>
<line x1="260.80" y1="521.50" x2="264.40" y2="521.50" stroke="#222" stroke-width="1"/>
<line x1="260.80" y1="576.50" x2="264.40" y2="576.50" stroke="#222" stroke-width="1"/>
<line x1="269.50" y1="581.50" x2="269.50" y2="584.00" stroke="#222" stroke-width="1"/>
<line x1="311.50" y1="581.50" x2="311.50" y2="584.00" stroke="#222" stroke-width="1"/>
<line x1="353.50" y1="581.50" x2="353.50" y2="584.00" stroke="#222" stroke-width="1"/>
<line x1="396.50" y1="581.50" x2="396.50" y2="584.00" stroke="#222" stroke-width="1"/>
<text x="257.80" y="468.05" font-size="8" text-anchor="end" fill="#222" stroke="#222" stroke-width="0.17" textLength="12.10" lengthAdjust="spacingAndGlyphs">100</text>
<text x="257.80" y="523.95" font-size="8" text-anchor="end" fill="#222" stroke="#222" stroke-width="0.17" textLength="8.30" lengthAdjust="spacingAndGlyphs">50</text>
<text x="257.80" y="579.55" font-size="8" text-anchor="end" fill="#222" stroke="#222" stroke-width="0.17" textLength="3.90" lengthAdjust="spacingAndGlyphs">0</text>
<text x="268.80" y="595.50" font-size="8.4" text-anchor="middle" fill="#222" stroke="#222" stroke-width="0.17">0</text>
<text x="311.00" y="595.50" font-size="8.4" text-anchor="middle" fill="#222" stroke="#222" stroke-width="0.17">500</text>
<text x="353.50" y="595.50" font-size="8.4" text-anchor="middle" fill="#222" stroke="#222" stroke-width="0.17">1000</text>
<text x="395.00" y="595.50" font-size="8.4" text-anchor="middle" fill="#222" stroke="#222" stroke-width="0.17">1500</text>
<text x="339.35" y="609.00" font-size="10" text-anchor="middle" fill="#222" stroke="#222" stroke-width="0.17" textLength="19.50" lengthAdjust="spacingAndGlyphs">Days</text>
<text x="237.10" y="521.00" font-size="9.3" text-anchor="middle" fill="#222" stroke="#222" stroke-width="0.17" textLength="65.50" lengthAdjust="spacingAndGlyphs" transform="rotate(-90 237.10 521.00)">Percent survival</text>
<rect x="271.00" y="546.90" width="14.80" height="4.20" fill="#9e3a33" stroke="#8c2419" stroke-width="0.6"/>
<rect x="271.00" y="556.10" width="14.80" height="4.20" fill="#514b83" stroke="#3d2f6e" stroke-width="0.6"/>
<text x="288.80" y="551.20" font-size="8.1" text-anchor="start" fill="#a83e34" stroke="#a83e34" stroke-width="0.17" textLength="57.90" lengthAdjust="spacingAndGlyphs">STAT3 mRNA High</text>
<text x="288.80" y="560.40" font-size="8.1" text-anchor="start" fill="#524f9c" stroke="#524f9c" stroke-width="0.17" textLength="56.00" lengthAdjust="spacingAndGlyphs">STAT3 mRNA Low</text>
<text x="271.00" y="573.30" font-size="7.9" text-anchor="start" fill="#222" stroke="#222" stroke-width="0.17" textLength="91.70" lengthAdjust="spacingAndGlyphs">HR: 0.67 (0.48–0.93);p=0.015</text>
<text x="258.60" y="621.70" font-size="8.0" text-anchor="end" fill="#c0554c" stroke="#c0554c" stroke-width="0.17" textLength="22.60" lengthAdjust="spacingAndGlyphs" stroke-opacity="0.3">&gt; 50%</text>
<text x="258.60" y="631.20" font-size="8.0" text-anchor="end" fill="#6e6bb3" stroke="#6e6bb3" stroke-width="0.17" textLength="20.80" lengthAdjust="spacingAndGlyphs" stroke-opacity="0.3">&lt; 50%</text>
<text x="269.60" y="621.50" font-size="7.9" text-anchor="middle" fill="#222" stroke="#222" stroke-width="0.17">276</text>
<text x="311.60" y="621.50" font-size="7.9" text-anchor="middle" fill="#222" stroke="#222" stroke-width="0.17">219</text>
<text x="352.90" y="621.50" font-size="7.9" text-anchor="middle" fill="#222" stroke="#222" stroke-width="0.17">91</text>
<text x="394.90" y="621.50" font-size="7.9" text-anchor="middle" fill="#222" stroke="#222" stroke-width="0.17">12</text>
<text x="269.60" y="631.00" font-size="7.9" text-anchor="middle" fill="#222" stroke="#222" stroke-width="0.17">276</text>
<text x="311.60" y="631.00" font-size="7.9" text-anchor="middle" fill="#222" stroke="#222" stroke-width="0.17">188</text>
<text x="352.90" y="631.00" font-size="7.9" text-anchor="middle" fill="#222" stroke="#222" stroke-width="0.17">84</text>
<text x="394.90" y="631.00" font-size="7.9" text-anchor="middle" fill="#222" stroke="#222" stroke-width="0.17">9</text>
<path d="M269.20,465.50 L275.40,468.00 L284.60,471.90 L290.80,474.20 L297.00,478.00 L301.50,479.30 L309.20,482.40 L315.40,483.50 L321.50,485.80 L324.60,487.00 L330.80,487.60 L342.30,489.60 L357.70,491.20 L360.00,492.50 L362.30,494.20 L379.20,494.20 L379.20,497.20 L409.00,497.20" fill="none" stroke="#b03a2e" stroke-width="1.3" stroke-linejoin="miter"/>
<path d="M269.20,465.50 L272.30,468.00 L277.00,470.40 L283.00,472.70 L285.40,476.50 L287.70,482.00 L292.30,482.70 L293.80,485.80 L298.50,487.30 L300.80,490.40 L306.20,492.70 L312.30,493.50 L314.60,495.30 L321.50,496.20 L329.20,497.30 L333.80,498.80 L340.80,500.40 L363.00,500.40 L363.00,501.90 L370.80,501.90 L374.60,507.20 L386.20,507.20 L386.20,510.00 L406.20,510.00" fill="none" stroke="#524a95" stroke-width="1.3" stroke-linejoin="miter"/>
<path d="M270.50,466.22V463.52M277.50,469.09V466.39M280.50,470.36V467.66M290.50,474.29V471.59M292.50,475.44V472.74M320.50,485.62V482.92M325.50,487.29V484.59M328.50,487.58V484.88M330.50,487.77V485.07M332.50,488.10V485.40M334.50,488.44V485.74M335.50,488.62V485.92M337.50,488.97V486.27M338.50,489.14V486.44M340.50,489.49V486.79M341.50,489.66V486.96M343.50,489.92V487.22M344.50,490.03V487.33M345.50,490.13V487.43M347.50,490.34V487.64M348.50,490.44V487.74M349.50,490.55V487.85M351.50,490.76V488.06M352.50,490.86V488.16M354.50,491.07V488.37M355.50,491.17V488.47M356.50,491.28V488.58M358.50,491.85V489.15M359.50,492.42V489.72M361.50,493.81V491.11M370.50,494.40V491.70M371.50,494.40V491.70M372.50,494.40V491.70M374.50,494.40V491.70M375.50,494.40V491.70M376.50,494.40V491.70M381.50,497.40V494.70M382.50,497.40V494.70M383.50,497.40V494.70M384.50,497.40V494.70M386.50,497.40V494.70M387.50,497.40V494.70M388.50,497.40V494.70M390.50,497.40V494.70M391.50,497.40V494.70M392.50,497.40V494.70M393.50,497.40V494.70M395.50,497.40V494.70M396.50,497.40V494.70M397.50,497.40V494.70M399.50,497.40V494.70M400.50,497.40V494.70M401.50,497.40V494.70M402.50,497.40V494.70M404.50,497.40V494.70M405.50,497.40V494.70M406.50,497.40V494.70" stroke="#000" stroke-width="1.0" fill="none"/>
<path d="M299.50,488.85V486.15M312.50,493.86V491.16M317.50,495.88V493.18M323.50,496.69V493.99M327.50,497.26V494.56M330.50,497.92V495.22M333.50,498.90V496.20M335.50,499.39V496.69M337.50,499.85V497.15M338.50,500.07V497.37M340.50,500.53V497.83M341.50,500.60V497.90M343.50,500.60V497.90M344.50,500.60V497.90M346.50,500.60V497.90M347.50,500.60V497.90M349.50,500.60V497.90M350.50,500.60V497.90M352.50,500.60V497.90M353.50,500.60V497.90M355.50,500.60V497.90M357.50,500.60V497.90M358.50,500.60V497.90M359.50,500.60V497.90M361.50,500.60V497.90M366.50,502.10V499.40M369.50,502.10V499.40M374.50,507.26V504.56M376.50,507.40V504.70M377.50,507.40V504.70M379.50,507.40V504.70M380.50,507.40V504.70M381.50,507.40V504.70M383.50,507.40V504.70M384.50,507.40V504.70M388.50,510.20V507.50M389.50,510.20V507.50M390.50,510.20V507.50M391.50,510.20V507.50M393.50,510.20V507.50M394.50,510.20V507.50M395.50,510.20V507.50M397.50,510.20V507.50M398.50,510.20V507.50M399.50,510.20V507.50M400.50,510.20V507.50M402.50,510.20V507.50M403.50,510.20V507.50M404.50,510.20V507.50" stroke="#000" stroke-width="1.0" fill="none"/>
<rect x="0.5" y="0.5" width="519" height="640" fill="none" stroke="#4a4a4a" stroke-width="1"/>
<rect x="1.5" y="1.5" width="517" height="638" fill="none" stroke="#9a9a9a" stroke-width="1"/>
</svg>
</body></html>
